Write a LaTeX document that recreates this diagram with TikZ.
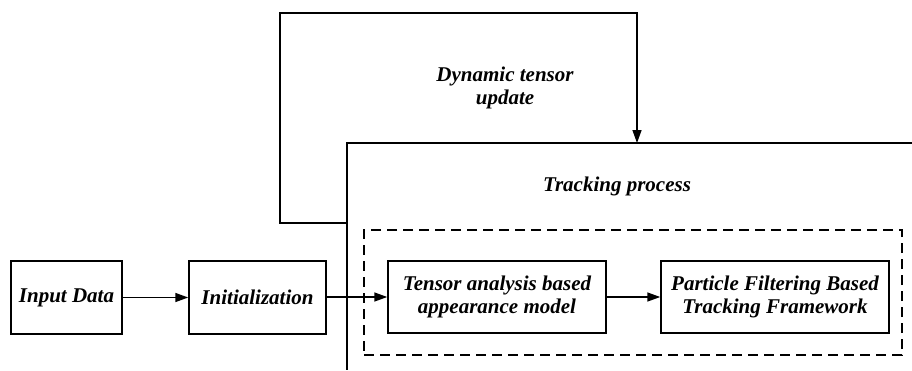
\documentclass[tikz,border=0pt]{standalone}
\usepackage{fontspec}
\setmainfont{Liberation Serif}
\usetikzlibrary{arrows.meta}
\begin{document}
\begin{tikzpicture}[x=1pt,y=-1pt,
  line width=1.5pt,
  box/.style={draw,line width=1.5pt,rectangle,inner sep=0pt,align=center,
    font=\fontsize{21}{23}\selectfont\bfseries\itshape},
  lbl/.style={align=center,font=\fontsize{21}{23}\selectfont\bfseries\itshape},
  arr/.style={-{Triangle[length=13pt,width=9pt]}}]
\useasboundingbox (0,0) rectangle (912,370);
\node[box,minimum width=111pt,minimum height=73pt] (inp) at (66.5,297.5) {Input Data};
\node[box,minimum width=137pt,minimum height=73pt] (init) at (257.5,297.5) {Initialization};
\node[box,minimum width=218pt,minimum height=72pt] (tens) at (497,297) {Tensor analysis based\\appearance model};
\node[box,minimum width=228pt,minimum height=72pt] (part) at (775,297) {Particle Filtering Based\\Tracking Framework};
\node[draw,dash pattern=on 10pt off 6pt,line width=1.5pt,inner sep=0pt,minimum width=538pt,minimum height=125pt] (dbox) at (633,292.5) {};
\coordinate (tl) at (347,143);
\coordinate (tr) at (912,143);
\coordinate (bl) at (347,370);
\coordinate (lj) at (347,223);
\coordinate (lb) at (280,223);
\coordinate (lt) at (280,13);
\coordinate (rt) at (637,13);
\coordinate (rb) at (637,143);
\draw (tr) -- (tl) -- (bl);
\draw[arr] (lj) -- (lb) -- (lt) -- (rt) -- (rb);
\node[lbl] (dyn) at (505,88) {Dynamic tensor\\update};
\node[lbl] (trk) at (617,186) {Tracking process};
\draw[arr] (inp) -- (init);
\draw[arr] (init.east |- tens.west) -- (tens.west);
\draw[arr] (tens) -- (part);
\end{tikzpicture}
\end{document}
